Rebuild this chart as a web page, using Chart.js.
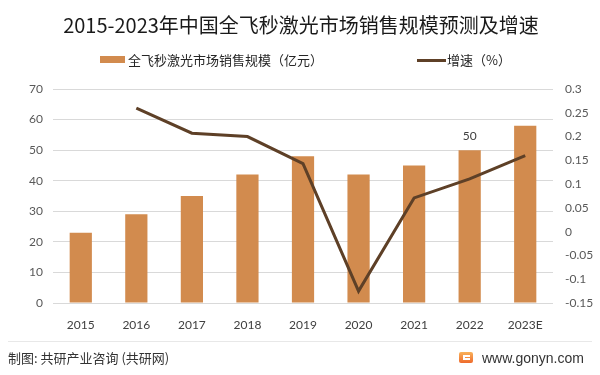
<!DOCTYPE html>
<html>
<head>
<meta charset="utf-8">
<script src="https://cdn.jsdelivr.net/npm/chart.js@4/dist/chart.umd.min.js"></script>
<style>
  html, body { margin: 0; padding: 0; background: #ffffff; }
  #wrap { position: relative; width: 600px; height: 375px; overflow: hidden; background: #fff;
          font-family: "Noto Sans CJK SC", "Noto Sans", sans-serif; }
  #c { position: absolute; left: 0; top: 0; }
  .t { position: absolute; white-space: nowrap; }
</style>
</head>
<body>
<div id="wrap">
  <canvas id="c" width="600" height="375"></canvas>
  <div class="t" id="title" style="left:0;width:602px;text-align:center;top:11px;line-height:28px;font-size:20px;color:#1a1a1a;">2015-2023年中国全飞秒激光市场销售规模预测及增速</div>
  <div style="position:absolute;left:100px;top:56px;width:25px;height:7px;background:#D28B4E;"></div>
  <div class="t" style="left:128px;top:51px;line-height:18px;font-size:13px;color:#262626;">全飞秒激光市场销售规模（亿元）</div>
  <div style="position:absolute;left:417px;top:58.5px;width:29px;height:3px;background:#5E4027;"></div>
  <div class="t" style="left:447px;top:51px;line-height:18px;font-size:13px;color:#262626;">增速（%）</div>
  <div style="position:absolute;left:8px;top:341px;width:584px;height:1px;background:#e8e8e8;"></div>
  <div class="t" style="left:8px;top:349px;line-height:18px;font-size:13px;color:#333;">制图: 共研产业咨询 (共研网)</div>
  <div style="position:absolute;left:459px;top:352px;width:14px;height:11px;border-radius:2px;background:linear-gradient(180deg,#f9b25a,#ee6a2c);"></div>
  <div style="position:absolute;left:463px;top:355px;width:7px;height:2px;background:#fff;"></div>
  <div style="position:absolute;left:463px;top:355px;width:2px;height:5px;background:#fff;"></div>
  <div style="position:absolute;left:463px;top:358px;width:7px;height:2px;background:#fff;"></div>
  <div class="t" style="left:482px;top:349px;line-height:18px;font-size:14px;color:#333;font-family:'Liberation Sans',Arial,sans-serif;">www.gonyn.com</div>
</div>
<script>
const categories = ['2015', '2016', '2017', '2018', '2019', '2020', '2021', '2022', '2023E'];
const marketSize = [23, 29, 35, 42, 48, 42, 45, 50, 58];
const growthRate = [null, 0.26, 0.207, 0.2, 0.143, -0.125, 0.071, 0.111, 0.16];
const labeledIndex = [7];

const labelPlugin = {
  id: 'barLabel',
  afterDatasetsDraw(chart) {
    const meta = chart.getDatasetMeta(1);
    const ctx = chart.ctx;
    ctx.save();
    ctx.font = '12px Lato, "Liberation Sans", sans-serif';
    ctx.fillStyle = '#404040';
    ctx.textAlign = 'center';
    ctx.textBaseline = 'middle';
    labeledIndex.forEach(i => {
      const el = meta.data[i];
      ctx.fillText(String(marketSize[i]), el.x, el.y - 14);
    });
    ctx.restore();
  }
};

new Chart(document.getElementById('c'), {
  data: {
    labels: categories,
    datasets: [
      {
        type: 'line',
        label: '增速（%）',
        data: growthRate,
        yAxisID: 'y1',
        borderColor: '#5E4027',
        borderWidth: 3,
        pointRadius: 0,
        tension: 0,
        order: 0
      },
      {
        type: 'bar',
        label: '全飞秒激光市场销售规模（亿元）',
        data: marketSize,
        yAxisID: 'y',
        backgroundColor: '#D28B4E',
        categoryPercentage: 1,
        barPercentage: 0.4,
        order: 1
      }
    ]
  },
  options: {
    responsive: false,
    animation: false,
    layout: { padding: { left: 0, right: 0, top: 89, bottom: 42 } },
    plugins: { legend: { display: false }, title: { display: false }, tooltip: { enabled: false } },
    scales: {
      x: {
        grid: { display: false },
        border: { display: false },
        ticks: { color: '#404040', font: { size: 12, family: 'Lato, "Liberation Sans", sans-serif' }, padding: 7 },
        afterFit(s) { s.height = 30; }
      },
      y: {
        position: 'left',
        min: 0, max: 70,
        ticks: { stepSize: 10, color: '#595959', font: { size: 12, family: 'Lato, "Liberation Sans", sans-serif' }, padding: 10 },
        grid: { color: '#d9d9d9', drawTicks: false, lineWidth: 1 },
        border: { display: false },
        afterFit(s) { s.width = 53; }
      },
      y1: {
        position: 'right',
        min: -0.15, max: 0.3,
        ticks: {
          stepSize: 0.05, color: '#595959', padding: 12,
          font: { size: 12, family: 'Lato, "Liberation Sans", sans-serif' },
          callback: v => String(parseFloat(Number(v).toFixed(2)))
        },
        grid: { display: false, drawTicks: false },
        border: { display: false },
        afterFit(s) { s.width = 47; }
      }
    }
  },
  plugins: [labelPlugin]
});
</script>
</body>
</html>
